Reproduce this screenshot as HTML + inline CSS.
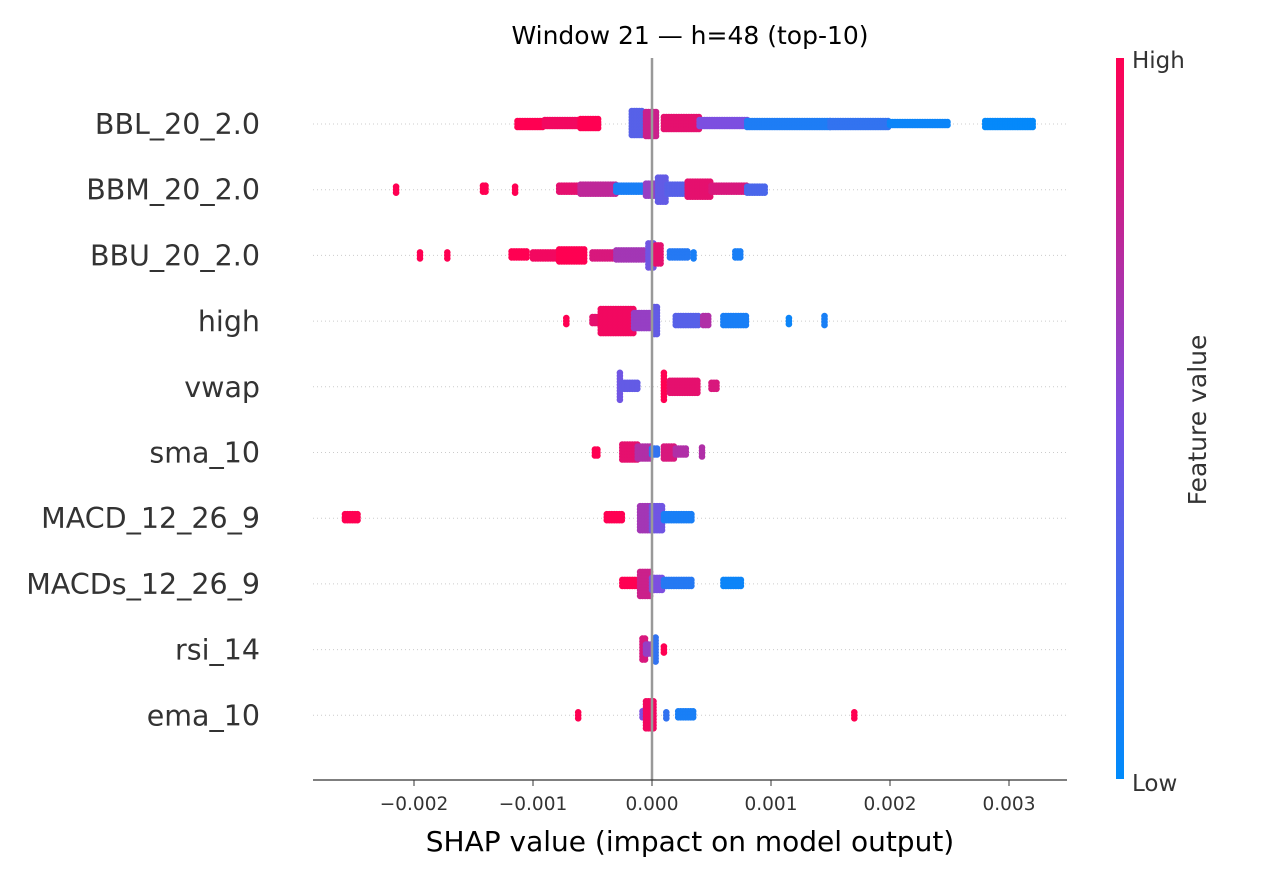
<!DOCTYPE html>
<html><head><meta charset="utf-8">
<style>
html,body{margin:0;padding:0;background:#fff;}
svg text{font-family:"DejaVu Sans","Liberation Sans",sans-serif;}
</style></head>
<body>
<svg id="chart" width="1280" height="880" viewBox="0 0 1280 880" xmlns="http://www.w3.org/2000/svg">
<text x="690" y="44" font-size="25" text-anchor="middle" fill="#000">Window 21 — h=48 (top-10)</text>
<g id="grid"></g>
<g id="marks"></g>
<g id="axis"></g>
<defs><linearGradient id="cb" x1="0" y1="1" x2="0" y2="0">
<stop offset="0" stop-color="#008bfb"/><stop offset="0.5" stop-color="#7c4fe0"/><stop offset="1" stop-color="#ff0052"/></linearGradient></defs>
<rect x="1116" y="58" width="8" height="721" fill="url(#cb)"/>
<text x="1132" y="68" font-size="23" fill="#333">High</text>
<text x="1132" y="791" font-size="23" fill="#333">Low</text>
<text transform="translate(1206,420) rotate(-90)" font-size="25" text-anchor="middle" fill="#333">Feature value</text>
<text x="690" y="851" font-size="28" text-anchor="middle" fill="#000">SHAP value (impact on model output)</text>
</svg>
<script>
const features = ["BBL_20_2.0","BBM_20_2.0","BBU_20_2.0","high","vwap","sma_10","MACD_12_26_9","MACDs_12_26_9","rsi_14","ema_10"];
const xTicks = [-0.002,-0.001,0,0.001,0.002,0.003];
const xTickLabels = ["\u22120.002","\u22120.001","0.000","0.001","0.002","0.003"];
// segments: [shapStart, shapEnd, featureValue(0 low..1 high), halfHeightPx]
const seg0 = [[-0.00113,-0.0009,1,3],[-0.0009,-0.0006,0.95,4],[-0.0006,-0.00045,1,5],[-0.00017,-0.00007,0.35,13],[-0.00005,0.00005,0.8,12],[0.0001,0.0004,0.9,7],[0.0004,0.0008,0.5,4],[0.0008,0.0015,0.12,3],[0.0015,0.002,0.2,3],[0.002,0.0025,0.05,2],[0.0028,0.0032,0.02,3]];
const seg1 = [[-0.00215,-0.00215,1,3],[-0.00142,-0.00138,1,4],[-0.00115,-0.00115,1,3],[-0.00078,-0.0006,0.9,4],[-0.0006,-0.0003,0.75,5],[-0.0003,-0.00005,0.1,4],[-0.00005,0.00005,0.6,6],[0.00005,0.00013,0.4,12],[0.00013,0.0003,0.35,5],[0.0003,0.0005,0.9,8],[0.0005,0.0008,0.85,4],[0.0008,0.00095,0.3,3]];
const seg2 = [[-0.00195,-0.00195,1,3],[-0.00172,-0.00172,1,3],[-0.00118,-0.00105,1,4],[-0.001,-0.0008,0.95,3],[-0.00078,-0.00055,1,6],[-0.0005,-0.0003,0.85,3],[-0.0003,-0.00005,0.65,5],[-0.00003,0.00003,0.45,12],[0.00003,0.00008,0.9,10],[0.00015,0.0003,0.15,4],[0.00035,0.00035,0.1,3],[0.0007,0.00075,0.1,4]];
const seg3 = [[-0.00072,-0.00072,1,3],[-0.0005,-0.00037,0.9,4],[-0.00043,-0.00015,0.95,12],[-0.00015,0,0.6,8],[0.00002,0.00005,0.4,14],[0.0002,0.0004,0.35,5],[0.00043,0.00048,0.7,5],[0.0006,0.0008,0.1,5],[0.00115,0.00115,0.05,3],[0.00145,0.00145,0.1,5]];
const seg4 = [[-0.00027,-0.00027,0.45,14],[-0.00025,-0.00012,0.4,4],[0.0001,0.0001,1,14],[0.00015,0.0004,0.9,6],[0.0005,0.00055,0.85,4]];
const seg5 = [[-0.00048,-0.00045,1,3],[-0.00025,-0.00012,0.9,8],[-0.00012,0,0.7,6],[0,0.00005,0.2,4],[0.0001,0.0002,0.85,6],[0.0002,0.0003,0.7,4],[0.00042,0.00043,0.7,5]];
const seg6 = [[-0.00258,-0.00247,1,4],[-0.00038,-0.00025,1,4],[-0.0001,0,0.65,12],[0,0.0001,0.45,12],[0.0001,0.00035,0.1,4]];
const seg7 = [[-0.00025,-0.00012,1,4],[-0.0001,0,0.8,12],[0,0.0001,0.5,6],[0.0001,0.00035,0.15,4],[0.0006,0.00075,0.05,4]];
const seg8 = [[-0.00008,-0.00005,0.85,11],[-0.00005,0.00002,0.6,5],[0.00003,0.00005,0.2,12],[0.0001,0.0001,1,3]];
const seg9 = [[-0.00062,-0.00062,1,3],[-0.00008,-0.00005,0.5,4],[-0.00005,0.00002,0.95,14],[0.00012,0.00012,0.2,3],[0.00022,0.00035,0.1,4],[0.0017,0.0017,1,3]];
const segments = [seg0,seg1,seg2,seg3,seg4,seg5,seg6,seg7,seg8,seg9];

const NS="http://www.w3.org/2000/svg";
const X0=652, PX=119000;
function xScale(v){return X0+v*PX;}
function yScale(i){return 124+i*65.7;}
function colorOf(t){
  const a=[0,139,251],m=[124,79,224],b=[255,0,82];
  let c; if(t<0.5){const k=t/0.5;c=a.map((v,j)=>v+(m[j]-v)*k);} else {const k=(t-0.5)/0.5;c=m.map((v,j)=>v+(b[j]-v)*k);}
  return `rgb(${c.map(Math.round).join(",")})`;
}
const grid=document.getElementById("grid"),marks=document.getElementById("marks"),axis=document.getElementById("axis");
features.forEach((f,i)=>{
  const y=yScale(i);
  const l=document.createElementNS(NS,"line");
  
  
  l.setAttribute("x1",313);l.setAttribute("x2",1067);l.setAttribute("y1",y);l.setAttribute("y2",y);
  l.setAttribute("stroke","#ccc");l.setAttribute("stroke-dasharray","1,3");l.setAttribute("stroke-width","1");
  grid.appendChild(l);
  const t=document.createElementNS(NS,"text");
  
  
  t.setAttribute("x",260);t.setAttribute("y",y+10);t.setAttribute("text-anchor","end");t.setAttribute("font-size","28.5");t.setAttribute("fill","#333");
  t.textContent=f;grid.appendChild(t);
  const g=document.createElementNS(NS,"g");
  
  
  segments[i].forEach(s=>{
    const xa=xScale(s[0]),xb=xScale(s[1]),col=colorOf(s[2]),h=s[3];
    for(let x=xa;x<=xb+0.01;x+=2.5){
      for(let dy=-h;dy<=h+0.01;dy+=3){
        const c=document.createElementNS(NS,"circle");
        c.setAttribute("cx",x.toFixed(1));c.setAttribute("cy",(y+dy).toFixed(1));c.setAttribute("r","3.3");c.setAttribute("fill",col);
        g.appendChild(c);
      }
      if(xb-xa<1)break;
    }
  });
  marks.appendChild(g);
});
const zl=document.createElementNS(NS,"line");


zl.setAttribute("x1",X0);zl.setAttribute("x2",X0);zl.setAttribute("y1",58);zl.setAttribute("y2",780);zl.setAttribute("stroke","#999");zl.setAttribute("stroke-width","2.5");
axis.appendChild(zl);
const al=document.createElementNS(NS,"line");


al.setAttribute("x1",313);al.setAttribute("x2",1067);al.setAttribute("y1",780);al.setAttribute("y2",780);al.setAttribute("stroke","#333");al.setAttribute("stroke-width","1.2");
axis.appendChild(al);
xTicks.forEach((v,k)=>{
  const x=xScale(v);
  const tk=document.createElementNS(NS,"line");
  
  
  tk.setAttribute("x1",x);tk.setAttribute("x2",x);tk.setAttribute("y1",780);tk.setAttribute("y2",786);tk.setAttribute("stroke","#333");
  axis.appendChild(tk);
  const tl=document.createElementNS(NS,"text");
  
  
  tl.setAttribute("x",x);tl.setAttribute("y",810);tl.setAttribute("text-anchor","middle");tl.setAttribute("font-size","18.5");tl.setAttribute("fill","#333");
  tl.textContent=xTickLabels[k];axis.appendChild(tl);
});
</script>
</body></html>
